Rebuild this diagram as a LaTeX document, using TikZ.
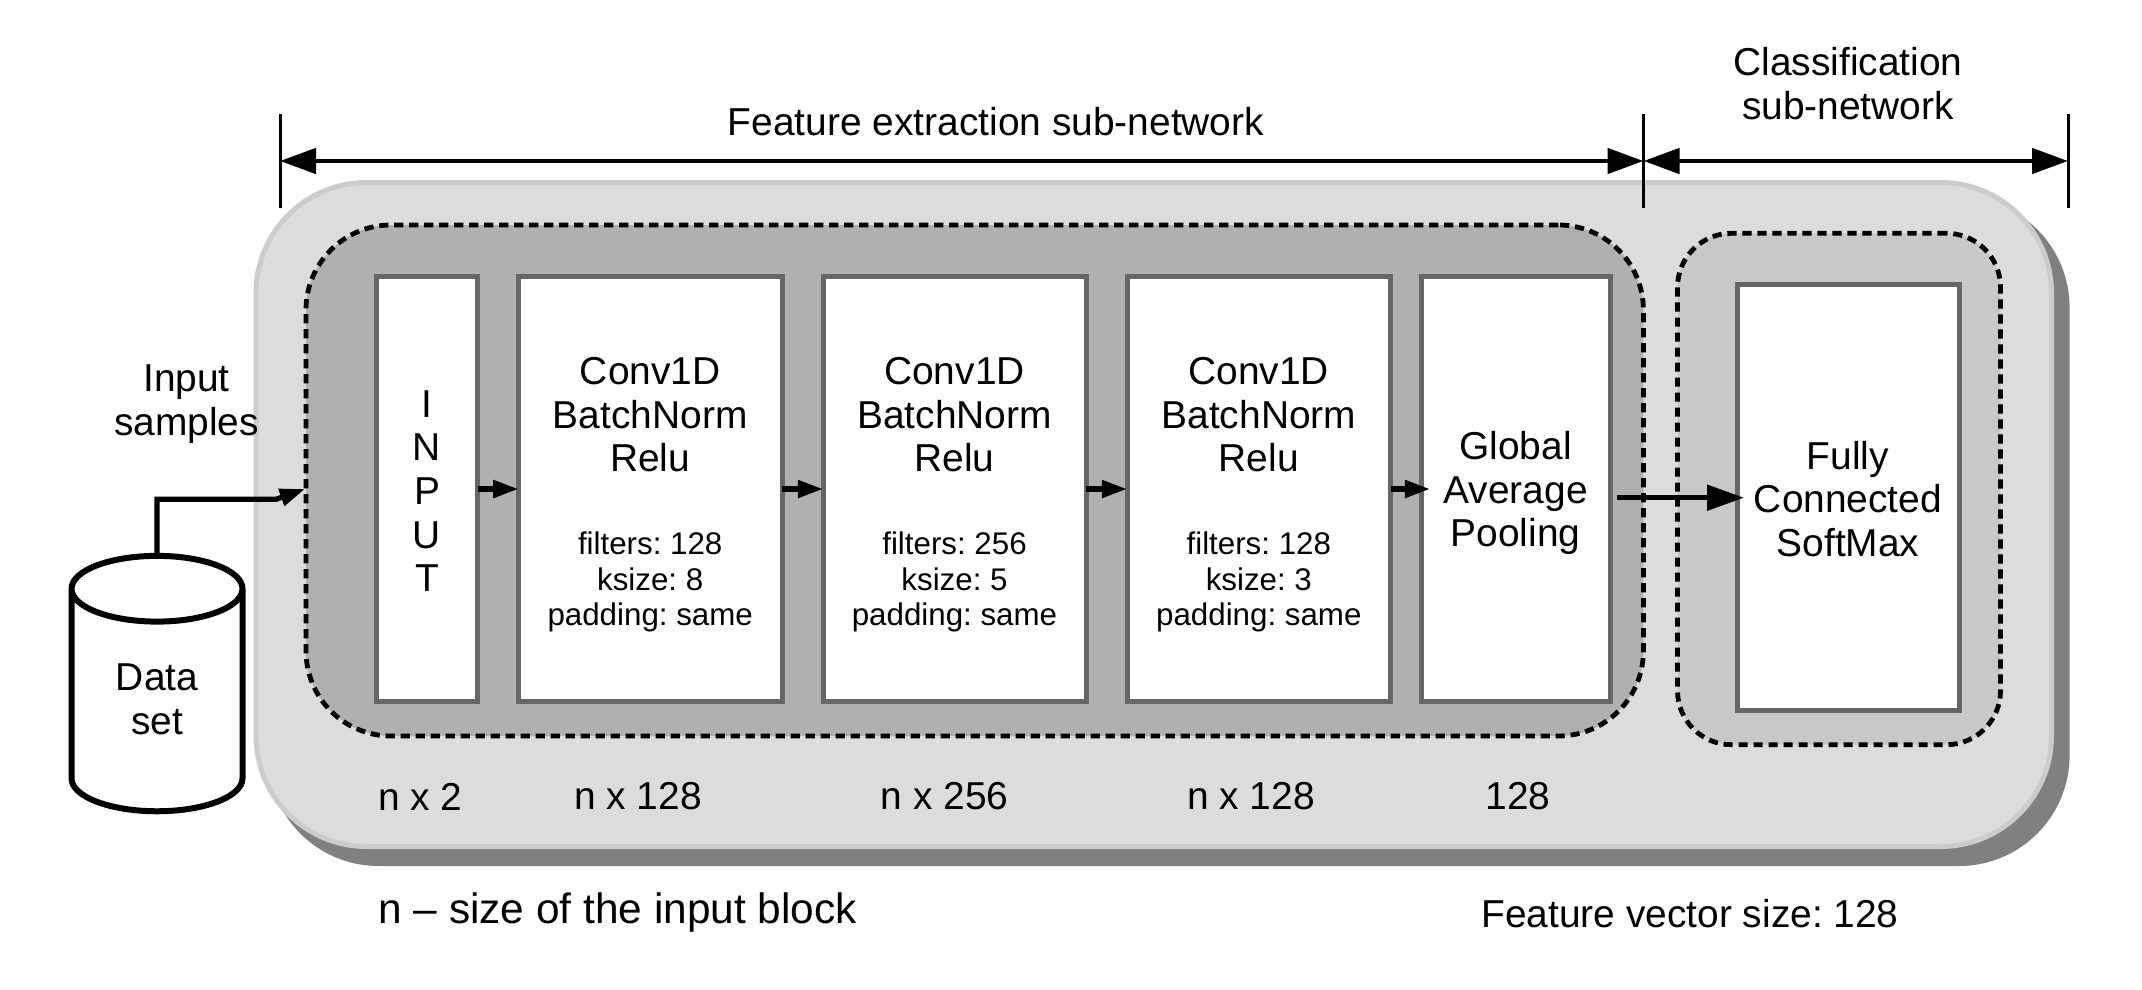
\documentclass[tikz,border=0pt]{standalone}
\usepackage{fontspec}
\setmainfont{Liberation Sans}
\usetikzlibrary{arrows.meta,shapes.geometric}
\newcommand{\bigtxt}{\fontsize{19.45}{21.85}\selectfont\frenchspacing}
\newcommand{\smalltxt}{\fontsize{15.65}{17.75}\selectfont\frenchspacing}
\newcommand{\convtxt}[2]{\rule{0pt}{16pt}Conv1D\\BatchNorm\\Relu\\[19.45pt]\smalltxt filters: #1\\[-4.1pt]\smalltxt ksize: #2\\[-4.1pt]\smalltxt padding: same}
\tikzset{
  panel/.style={rectangle,draw=panelline,fill=panelfill,line width=2.5pt,rounded corners=55.3pt,minimum width=897.75pt,minimum height=332pt},
  panelshadow/.style={rectangle,fill=shadowfill,rounded corners=55.3pt,minimum width=900.8pt,minimum height=334.5pt},
  group/.style={rectangle,draw=black,line width=2.4pt,dash pattern=on 4.6pt off 2.9pt},
  layerbox/.style={rectangle,draw=boxline,fill=white,line width=2.5pt,align=center,font=\bigtxt,inner sep=0pt,outer sep=0pt,text depth=0pt,minimum height=212.85pt},
  txt/.style={align=center,font=\bigtxt,inner sep=0pt},
  flow/.style={black,line width=2.6pt,-{Triangle[length=12.6pt,width=8.5pt]}},
  bigflow/.style={black,line width=2.5pt,-{Triangle[length=18.5pt,width=12.5pt]}},
  span/.style={black,line width=2.4pt,{Triangle[length=18pt,width=12.5pt]}-{Triangle[length=18pt,width=12.5pt]}},
  tick/.style={black,line width=1.5pt}
}
\definecolor{panelline}{HTML}{CCCCCC}
\definecolor{panelfill}{HTML}{DCDCDC}
\definecolor{shadowfill}{HTML}{808080}
\definecolor{boxline}{HTML}{666666}
\definecolor{featfill}{HTML}{B0B0B0}
\definecolor{classfill}{HTML}{C8C8C8}
\begin{document}
\begin{tikzpicture}[x=0.5pt,y=-0.5pt]
\useasboundingbox (0,0) rectangle (2142,990);

\node [panelshadow] (shadow) at (1168.8,531.5) {};
\node [panel] (panel) at (1153.75,514.5) {};
\node [group,fill=featfill,rounded corners=42.5pt,minimum width=668.7pt,minimum height=255.5pt] (feat) at (974.7,480.5) {};
\node [group,fill=classfill,rounded corners=27pt,minimum width=161.5pt,minimum height=255.7pt] (class) at (1839,489) {};

\node [layerbox,minimum width=50.5pt] (input) at (427,489) {\rule{0pt}{15.4pt}I\\N\\P\\U\\T};
\node [layerbox,minimum width=131.8pt] (convA) at (650.2,489) {\convtxt{128}{8}};
\node [layerbox,minimum width=131.5pt] (convB) at (954.5,489) {\convtxt{256}{5}};
\node [layerbox,minimum width=131.8pt] (convC) at (1258.8,489) {\convtxt{128}{3}};
\node [layerbox,minimum width=94.5pt] (pool) at (1515.6,489) {Global\\Average\\Pooling};
\node [layerbox,minimum width=111pt] (dense) at (1848,497.3) {\rule{0pt}{15.5pt}Fully\\Connected\\SoftMax};

\node [cylinder,shape border rotate=90,aspect=0.8,draw=black,fill=white,line width=3pt,minimum width=85.5pt,minimum height=127.7pt,font=\bigtxt,align=center,inner sep=0pt] (data) at (157,701.5) {\phantom{Data}\\\phantom{set}};
\node [txt] (datatxt) at (157,699.5) {Data\\set};

\node [txt] (samples) at (186.5,404.5) {Input\\samples};
\node [txt] (feattitle) at (996,121.6) {Feature extraction sub-network};
\node [txt] (classtitle) at (1848,83.3) {Classification\\sub-network};
\node [txt] (sizeA) at (420.4,796.5) {n x 2};
\node [txt] (sizeB) at (638,796.5) {n x 128};
\node [txt] (sizeC) at (944.5,796.5) {n x 256};
\node [txt] (sizeD) at (1251,796.5) {n x 128};
\node [txt] (sizeE) at (1518,796.5) {128};
\node [txt,anchor=west,font=\fontsize{21.2}{24}\selectfont] (note) at (378,912.7) {n -- size of the input block};
\node [txt] (vector) at (1690,914) {Feature vector size: 128};

\coordinate (elbow) at (276,499.3);
\coordinate (inputend) at (305,489);
\coordinate (poolout) at (1617,497.7);
\coordinate (densein) at (1744,497.7);
\coordinate (poolin) at (1430,489);
\coordinate (topA) at (280,114);
\coordinate (botA) at (280,208);
\coordinate (topB) at (1643.5,114);
\coordinate (botB) at (1643.5,208);
\coordinate (topC) at (2068,114);
\coordinate (botC) at (2068,208);
\coordinate (midA) at (280,161);
\coordinate (midB) at (1643.5,161);
\coordinate (midC) at (2068,161);

\draw [tick] (topA)--(botA);
\draw [tick] (topB)--(botB);
\draw [tick] (topC)--(botC);
\draw [span] (midA)--(midB);
\draw [span] (midB)--(midC);

\draw [flow] (input.east |- poolin)--(convA.west |- poolin);
\draw [flow] (convA.east |- poolin)--(convB.west |- poolin);
\draw [flow] (convB.east |- poolin)--(convC.west |- poolin);
\draw [flow] (convC.east |- poolin)--(poolin);
\draw [bigflow] (poolout)--(densein);
\draw [flow] (data.north) |- (elbow)--(inputend);
\end{tikzpicture}
\end{document}
